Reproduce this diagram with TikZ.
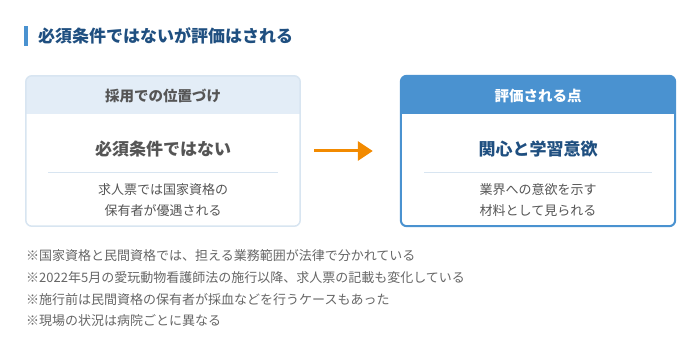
\documentclass[tikz,border=0pt]{standalone}
\usepackage{fontspec}
\setmainfont{Noto Sans CJK JP}
\usepackage{xcolor}
\usepackage{tikz}
\usetikzlibrary{arrows.meta,positioning}

\definecolor{titleblue}{HTML}{1F4F80}
\definecolor{accentblue}{HTML}{4A92D0}
\definecolor{paleblue}{HTML}{E3EDF7}
\definecolor{lineblue}{HTML}{D8E5F1}
\definecolor{textgray}{HTML}{555555}
\definecolor{notegray}{HTML}{666666}
\definecolor{arroworange}{HTML}{F28A00}

\begin{document}
\begin{tikzpicture}[
    x=1pt, y=-1pt,
    card/.style={rectangle, fill=white, rounded corners=6pt, minimum width=274pt, minimum height=150pt, inner sep=0pt},
    headtxt/.style={font=\fontsize{14.5}{16}\selectfont\bfseries, inner sep=0pt},
    maintxt/.style={font=\fontsize{17}{20}\selectfont\bfseries, inner sep=0pt},
    subtxt/.style={font=\fontsize{13}{21}\selectfont, text=textgray, align=center, inner sep=0pt},
    sep/.style={draw=lineblue, line width=0.8pt},
    arr/.style={-{Triangle[length=15pt, width=19pt]}, line width=3pt, draw=arroworange}
]
    \useasboundingbox (0,0) rectangle (700,344);

    % title
    \fill[accentblue] (24,26) rectangle (27.5,46);
    \node [anchor=west, inner sep=0pt, text=titleblue, font=\fontsize{17}{20}\selectfont\bfseries] (title) at (38,36) {必須条件ではないが評価はされる};

    % left card
    \node [card] (pos) at (163,151) {};
    \begin{scope}
        \clip [rounded corners=6pt] (pos.south west) rectangle (pos.north east);
        \fill [paleblue] (pos.north west) rectangle ([yshift=-38pt]pos.north east);
    \end{scope}
    \draw [lineblue, line width=1.5pt, rounded corners=6pt] (pos.south west) rectangle (pos.north east);
    \node [headtxt, text=textgray] (posh) at (163,96) {採用での位置づけ};
    \node [maintxt, text=textgray] (posm) at (163,149) {必須条件ではない};
    \draw [sep] (48,172) -- (278,172);
    \node [subtxt] (poss) at (163,200) {求人票では国家資格の\\保有者が優遇される};

    % right card
    \node [card] (eval) at (538,151) {};
    \begin{scope}
        \clip [rounded corners=6pt] (eval.south west) rectangle (eval.north east);
        \fill [accentblue] (eval.north west) rectangle ([yshift=-38pt]eval.north east);
    \end{scope}
    \draw [accentblue, line width=2pt, rounded corners=6pt] (eval.south west) rectangle (eval.north east);
    \node [headtxt, text=white] (evalh) at (538,96) {評価される点};
    \node [maintxt, text=titleblue] (evalm) at (538,149) {関心と学習意欲};
    \draw [sep] (424,172) -- (652,172);
    \node [subtxt] (evals) at (538,200) {業界への意欲を示す\\材料として見られる};

    \draw [arr, shorten <=14pt, shorten >=28pt] (pos.east) -- (eval.west);

    % notes
    \node [anchor=north west, inner sep=0pt, align=left, text=notegray, font=\fontsize{13}{21.7}\selectfont] (notes) at (26,249.5) {※国家資格と民間資格では、担える業務範囲が法律で分かれている\\※2022年5月の愛玩動物看護師法の施行以降、求人票の記載も変化している\\※施行前は民間資格の保有者が採血などを行うケースもあった\\※現場の状況は病院ごとに異なる};
\end{tikzpicture}
\end{document}
